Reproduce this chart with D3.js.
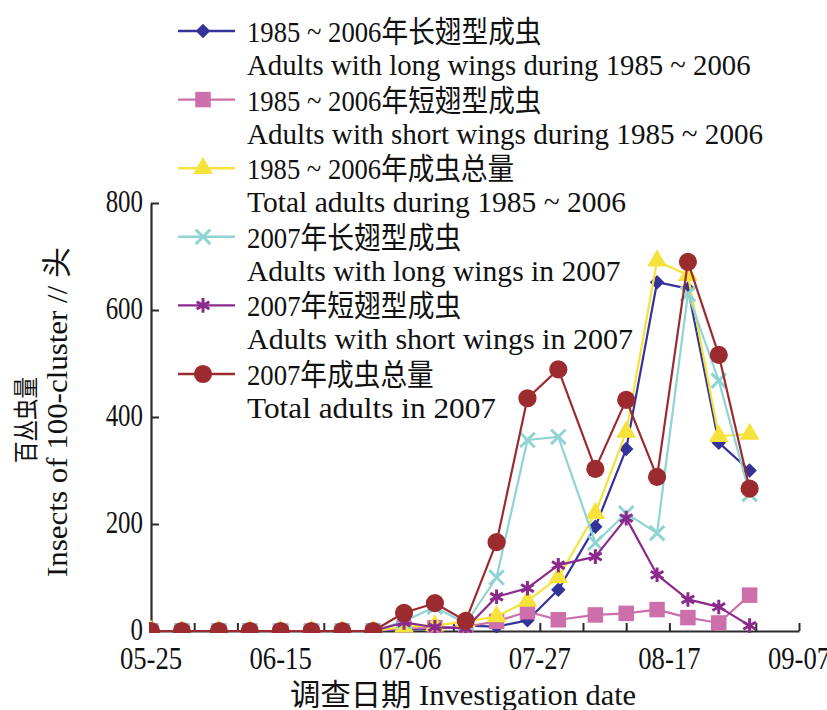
<!DOCTYPE html>
<html>
<head>
<meta charset="utf-8">
<script src="https://cdn.jsdelivr.net/npm/d3@7/dist/d3.min.js"></script>
<style>
  html, body { margin: 0; padding: 0; background: #fff; }
  svg { display: block; }
  text { font-family: "Liberation Serif", "Noto Sans CJK SC", serif; fill: #111; }
</style>
</head>
<body>
<svg id="chart" width="827" height="710"></svg>
<script>
// Survey dates (pentads) and adult counts per 100 clusters
const dates = ["05-25","05-30","06-05","06-10","06-15","06-20","06-25","06-30",
               "07-05","07-10","07-15","07-20","07-25","07-30",
               "08-05","08-10","08-15","08-20","08-25","08-30"];

const longWings8506  = [0,0,0,0,0,0,0,0, 3, 4,10, 8,20, 77,195,340,652,640,352,300];
const shortWings8506 = [0,0,0,0,0,0,0,0, 5, 6, 8,18,36, 21, 30, 33, 40, 25, 15, 67];
const total8506      = [0,0,0,0,0,0,0,0, 8,10,18,27,56,100,220,372,692,665,364,368];
const longWings07    = [0,0,0,0,0,0,0,0,18,45,14,100,357,363,165,220,183,630,468,256];
const shortWings07   = [0,0,0,0,0,0,0,0,16, 7, 5, 64, 80,123,139,211,105, 59, 45, 10];
const total07        = [0,0,0,0,0,0,0,0,34,52,19,166,435,489,303,432,288,690,516,266];

const xTickLabels = ["05-25","06-15","07-06","07-27","08-17","09-07"];
const yTickValues = [0, 200, 400, 600, 800];

const seriesNames = [
  ["1985 ~ 2006年长翅型成虫", "Adults with long wings during 1985 ~ 2006"],
  ["1985 ~ 2006年短翅型成虫", "Adults with short wings during 1985 ~ 2006"],
  ["1985 ~ 2006年成虫总量",   "Total adults during 1985 ~ 2006"],
  ["2007年长翅型成虫",         "Adults with long wings in 2007"],
  ["2007年短翅型成虫",         "Adults with short wings in 2007"],
  ["2007年成虫总量",           "Total adults in 2007"]
];

const parseDay = d3.timeParse("%Y-%m-%d");
const toDate = s => parseDay("2007-" + s);

const series = [
  { values: longWings8506,  color: "#333399", symbol: d3.symbolSquare,   size: 105, rotate: 45, stroke: false },
  { values: shortWings8506, color: "#CC6FAA", symbol: d3.symbolSquare,   size: 240, rotate: 0,  stroke: false },
  { values: total8506,      color: "#F5E33C", symbol: d3.symbolTriangle, size: 170, rotate: 0,  stroke: false },
  { values: longWings07,    color: "#8FD4D3", symbol: d3.symbolTimes || d3.symbolCross, size: 140, rotate: 0, stroke: true },
  { values: shortWings07,   color: "#8B2A8C", symbol: d3.symbolAsterisk || d3.symbolStar, size: 150, rotate: 0, stroke: true },
  { values: total07,        color: "#9C2B2F", symbol: d3.symbolCircle,   size: 260, rotate: 0,  stroke: false }
];

const svg = d3.select("#chart");

const x = d3.scaleTime()
  .domain([toDate("05-25"), toDate("09-07")])
  .range([151, 799]);
const y = d3.scaleLinear().domain([0, 800]).range([631, 203]);

// Width of a string in this condensed typeface: half-width Latin, full-width CJK,
// with the spaced tilde kept tight
function textWidth(s) {
  let w = 0;
  const chars = Array.from(s);
  chars.forEach((ch, i) => {
    if (/[\u3000-\u9fff\uff00-\uffef]/.test(ch)) w += 27.4;
    else if (ch === "~") w += 10.5;
    else if (ch === " " && (chars[i + 1] === "~" || chars[i - 1] === "~")) w += 10;
    else w += 12.45;
  });
  return w;
}
function fitText(sel, s, len) {
  sel.text(s)
    .attr("textLength", len || textWidth(s))
    .attr("lengthAdjust", "spacingAndGlyphs");
  return sel;
}

const axisColor = "#2b2b2b";

// Plot clip so markers sitting on zero are cut by the axis
svg.append("defs").append("clipPath").attr("id", "plotClip")
  .append("rect").attr("x", 149).attr("y", 150).attr("width", 660).attr("height", 483);

// Axes: a tick every week, labels every three weeks
const start = toDate("05-25");
const weekTicks = d3.timeDay.range(start, d3.timeDay.offset(toDate("09-07"), 1))
  .filter(d => d3.timeDay.count(start, d) % 7 === 0);

const xAxis = d3.axisBottom(x)
  .tickValues(weekTicks)
  .tickSizeInner(-8).tickSizeOuter(0)
  .tickFormat(() => "");
const gx = svg.append("g").attr("transform", `translate(0,${y(0)})`).call(xAxis);
gx.select(".domain").attr("stroke", axisColor).attr("stroke-width", 2.2);
gx.selectAll(".tick line").attr("stroke", axisColor).attr("stroke-width", 2);

xTickLabels.forEach(lbl => {
  fitText(svg.append("text")
    .attr("x", x(toDate(lbl)))
    .attr("y", 669)
    .attr("text-anchor", "middle")
    .attr("font-size", 31), lbl);
});

const yAxis = d3.axisLeft(y).tickValues(yTickValues).tickSizeInner(-8).tickSizeOuter(0).tickFormat(() => "");
const gy = svg.append("g").attr("transform", `translate(${x(start)},0)`).call(yAxis);
gy.select(".domain").attr("stroke", axisColor).attr("stroke-width", 2.2);
gy.selectAll(".tick line").attr("stroke", axisColor).attr("stroke-width", 2);

yTickValues.forEach(v => {
  fitText(svg.append("text")
    .attr("x", 143)
    .attr("y", y(v) + 9)
    .attr("text-anchor", "end")
    .attr("font-size", 31), String(v));
});

// Axis titles
fitText(svg.append("text")
  .attr("x", 463).attr("y", 705)
  .attr("text-anchor", "middle")
  .attr("font-size", 30), "调查日期 Investigation date");

fitText(svg.append("text")
  .attr("transform", "translate(67,412) rotate(-90)")
  .attr("text-anchor", "middle")
  .attr("font-size", 30), "Insects of 100-cluster // 头", 330);

fitText(svg.append("text")
  .attr("transform", "translate(35,420) rotate(-90)")
  .attr("text-anchor", "middle")
  .attr("font-size", 25), "百丛虫量", 86);

// Series lines and markers
const plot = svg.append("g").attr("clip-path", "url(#plotClip)");
const line = d3.line()
  .x((d, i) => x(toDate(dates[i])))
  .y(d => y(d));

function drawMarker(g, s, cx, cy) {
  const path = d3.symbol().type(s.symbol).size(s.size)();
  const m = g.append("path")
    .attr("d", path)
    .attr("transform", `translate(${cx},${cy}) rotate(${s.rotate})`);
  if (s.stroke) {
    m.attr("fill", "none").attr("stroke", s.color).attr("stroke-width", 3);
  } else {
    m.attr("fill", s.color).attr("stroke", "none");
  }
  return m;
}

series.forEach(s => {
  const g = plot.append("g");
  g.append("path")
    .datum(s.values)
    .attr("d", line)
    .attr("fill", "none")
    .attr("stroke", s.color)
    .attr("stroke-width", 2.2)
    .attr("stroke-linejoin", "round");
  s.values.forEach((v, i) => drawMarker(g, s, x(toDate(dates[i])), y(v)));
});

// Legend
const legend = svg.append("g");
seriesNames.forEach((names, i) => {
  const s = series[i];
  const my = 31 + 68.6 * i;
  legend.append("line")
    .attr("x1", 178).attr("x2", 235)
    .attr("y1", my).attr("y2", my)
    .attr("stroke", s.color).attr("stroke-width", 2.4);
  drawMarker(legend, s, 203, my);
  fitText(legend.append("text")
    .attr("x", 247).attr("y", my + 11)
    .attr("font-size", 30), names[0]);
  fitText(legend.append("text")
    .attr("x", 247).attr("y", my + 44)
    .attr("font-size", 30), names[1]);
});
</script>
</body>
</html>
